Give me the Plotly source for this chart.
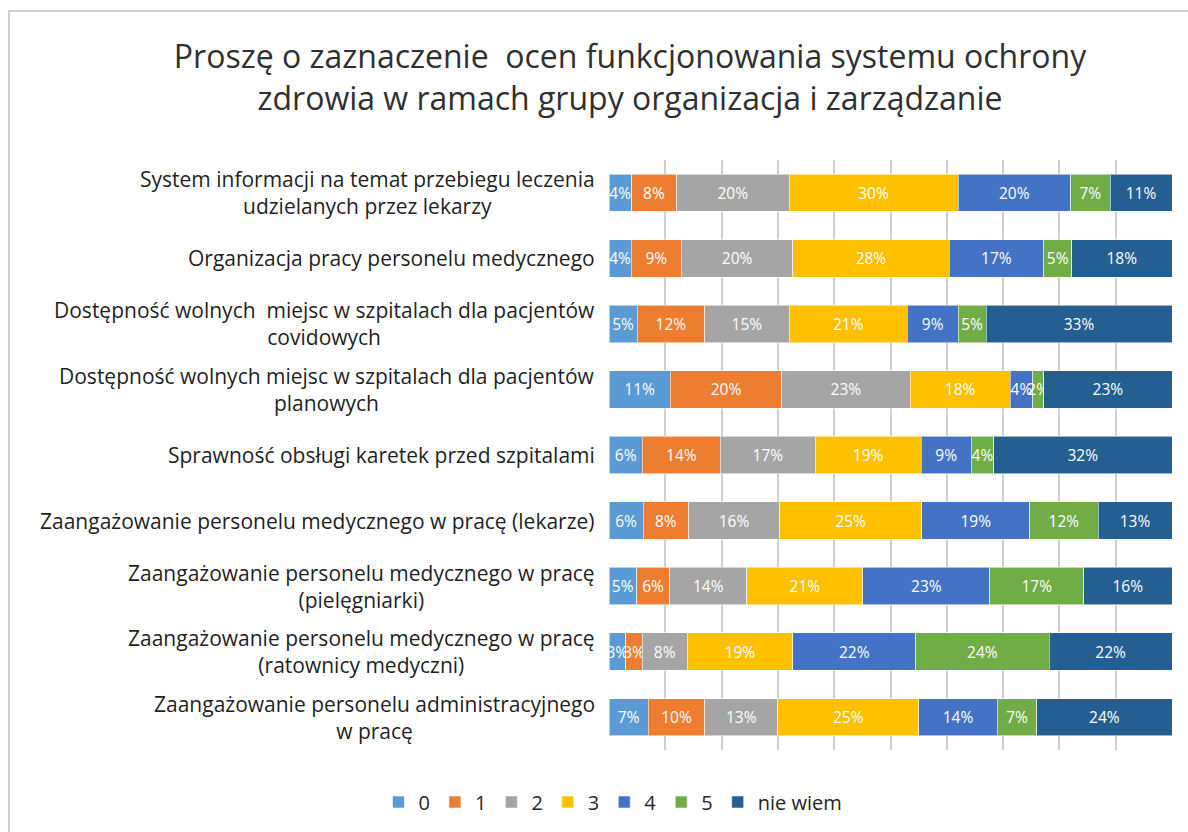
import plotly.graph_objects as go

categories = [
    "System informacji na temat przebiegu leczenia<br>udzielanych przez lekarzy",
    "Organizacja pracy personelu medycznego",
    "Dostępność wolnych  miejsc w szpitalach dla pacjentów<br>covidowych",
    "Dostępność wolnych miejsc w szpitalach dla pacjentów<br>planowych",
    "Sprawność obsługi karetek przed szpitalami",
    "Zaangażowanie personelu medycznego w pracę (lekarze)",
    "Zaangażowanie personelu medycznego w pracę<br>(pielęgniarki)",
    "Zaangażowanie personelu medycznego w pracę<br>(ratownicy medyczni)",
    "Zaangażowanie personelu administracyjnego<br>w pracę",
]

series_names = ["0", "1", "2", "3", "4", "5", "nie wiem"]

s0 = [4, 4, 5, 11, 6, 6, 5, 3, 7]
s1 = [8, 9, 12, 20, 14, 8, 6, 3, 10]
s2 = [20, 20, 15, 23, 17, 16, 14, 8, 13]
s3 = [30, 28, 21, 18, 19, 25, 21, 19, 25]
s4 = [20, 17, 9, 4, 9, 19, 23, 22, 14]
s5 = [7, 5, 5, 2, 4, 12, 17, 24, 7]
s_nw = [11, 18, 33, 23, 32, 13, 16, 22, 24]

colors = ["#5B9BD5", "#ED7D31", "#A5A5A5", "#FFC000", "#4472C4", "#70AD47", "#255E91"]

FONT = "'Open Sans', Lato, sans-serif"
W, H = 1188, 832
M = {"l": 609, "r": 16, "t": 160, "b": 82}

fig = go.Figure()
for name, vals, color in zip(series_names, [s0, s1, s2, s3, s4, s5, s_nw], colors):
    fig.add_trace(
        go.Bar(
            y=categories,
            x=vals,
            name=name,
            orientation="h",
            marker={"color": color, "line": {"color": "rgba(255,255,255,0.55)", "width": 1}},
            text=[f"{v}%" for v in vals],
            textposition="inside",
            insidetextanchor="middle",
            textangle=0,
            textfont={"color": "white", "size": 15.5, "family": FONT},
            hovertemplate="%{y}<br>" + name + ": %{text}<extra></extra>",
        )
    )

# category labels, centred multi-line like the original
for cat in categories:
    fig.add_annotation(
        x=0, xref="paper", y=cat, yref="y",
        text=cat, showarrow=False,
        xanchor="right", xshift=-12, align="center",
        font={"size": 21, "color": "#1f1f1f", "family": FONT},
    )

pw = W - M["l"] - M["r"]
ph = H - M["t"] - M["b"]
fig.add_shape(
    type="rect", xref="paper", yref="paper",
    x0=(9 - M["l"]) / pw, x1=(W + 20 - M["l"]) / pw,
    y0=-(H + 20 - M["t"] - ph) / ph, y1=1 + (M["t"] - 11) / ph,
    line={"color": "#d0d0d0", "width": 2},
)

fig.update_layout(
    width=W,
    height=H,
    barmode="stack",
    barnorm="percent",
    bargap=0.43,
    title={
        "text": "Proszę o zaznaczenie  ocen funkcjonowania systemu ochrony<br>zdrowia w ramach grupy organizacja i zarządzanie",
        "x": 630 / W, "xanchor": "center", "xref": "container",
        "y": 1 - 68 / H, "yanchor": "top",
        "font": {"size": 32, "color": "#303030", "family": FONT},
    },
    margin=M,
    paper_bgcolor="white",
    plot_bgcolor="white",
    uniformtext={"minsize": 15.5, "mode": "show"},
    font={"family": FONT, "color": "#262626"},
    legend={
        "orientation": "h",
        "xref": "container", "yref": "container",
        "x": 613 / W, "xanchor": "center",
        "y": 1 - 802 / H, "yanchor": "middle",
        "font": {"size": 20, "color": "#262626"},
        "traceorder": "normal",
        "itemwidth": 30,
    },
)
fig.update_xaxes(
    range=[0, 100], dtick=10, showticklabels=False, showgrid=True,
    gridcolor="#d0d0d0", gridwidth=2, zeroline=False, fixedrange=True,
)
fig.update_yaxes(autorange="reversed", showticklabels=False, showgrid=False)

fig.write_html(
    "out.html",
    config={"displayModeBar": False},
    post_script="document.body.style.margin='0';",
)
